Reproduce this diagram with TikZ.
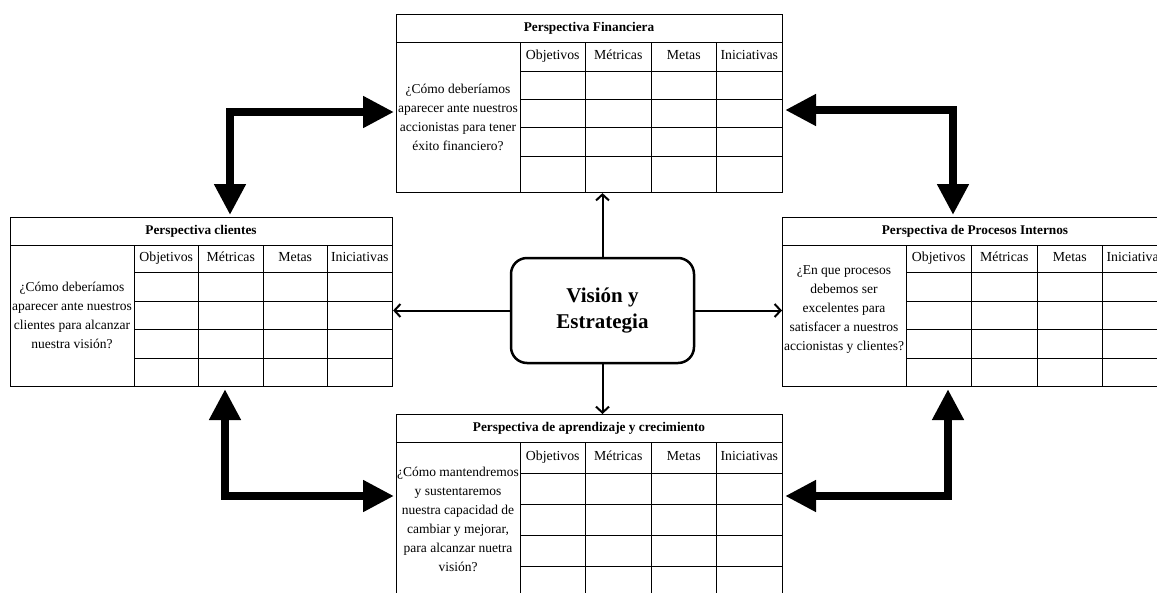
\documentclass[tikz,border=0pt]{standalone}
\usepackage{fontspec}
\setmainfont{Liberation Serif}
\usetikzlibrary{arrows.meta}
\tikzset{
 tbox/.style={draw, line width=1.1pt, inner sep=0pt},
 tline/.style={line width=1pt},
 ttl/.style={font=\bfseries\fontsize{13.3}{15}\selectfont, inner sep=0pt, text height=9.5pt, text depth=3pt},
 hdr/.style={font=\fontsize{13.8}{16}\selectfont, inner sep=0pt, text height=9.5pt, text depth=3pt},
 qst/.style={font=\fontsize{13.5}{19}\selectfont, align=center, inner sep=0pt},
 visbox/.style={draw, line width=2.5pt, rounded corners=16pt, minimum width=183pt, minimum height=105pt, align=center, font=\bfseries\fontsize{21}{26}\selectfont},
 carrow/.style={line width=2pt, -{Straight Barb[length=6pt,width=13pt]}},
 elbow/.style={line width=8pt, line join=miter, {Triangle[length=31pt,width=30pt]}-{Triangle[length=31pt,width=30pt]}, shorten >=2pt, shorten <=2pt},
}
\def\qsh{0}
\newcommand\ptable[9]{%
 \node[tbox, minimum width=#4pt, minimum height=#7pt, anchor=north west] (#1) at (#2,#3) {};
 \pgfmathsetmacro\qx{#2+124}%
 \pgfmathsetmacro\cw{(#4-124)/4}%
 \pgfmathsetmacro\hy{#3+(28+#5)/2}%
 \draw[tline] (#2,#3+28) -- (#2+#4,#3+28);
 \draw[tline] (\qx,#3+28) -- (\qx,#3+#7);
 \foreach \i in {1,2,3} \draw[tline] (\qx+\i*\cw,#3+28) -- (\qx+\i*\cw,#3+#7);
 \draw[tline] (\qx,#3+#5) -- (#2+#4,#3+#5);
 \foreach \r in {#6} \draw[tline] (\qx,#3+\r) -- (#2+#4,#3+\r);
 \node[ttl] (#1-title) at (#2+#4/2,#3+14) {#8};
 \foreach [count=\k from 0] \h in {Objetivos,Métricas,Metas,Iniciativas}
   \node[hdr] (#1-h\k) at (\qx+\k*\cw+\cw/2,\hy) {\h};
 \node[qst] (#1-q) at (#2+62,#3+14+#7/2+\qsh) {#9};
}
\begin{document}
\begin{tikzpicture}[x=1pt,y=-1pt]
\useasboundingbox (0,0) rectangle (1157,592);
\clip (0,0) rectangle (1157,592);
\ptable{fin}{396}{14}{386}{57}{85,113,142}{178}{Perspectiva Financiera}{¿Cómo deberíamos\\aparecer ante nuestros\\accionistas para tener\\éxito financiero?}
\ptable{cli}{10}{217}{382}{55}{84,112,141}{169}{Perspectiva clientes}{¿Cómo deberíamos\\aparecer ante nuestros\\clientes para alcanzar\\nuestra visión?}
\def\qsh{-6}
\ptable{pro}{782}{217}{386}{55}{84,112,141}{169}{Perspectiva de Procesos Internos}{¿En que procesos\\debemos ser\\excelentes para\\satisfacer a nuestros\\accionistas y clientes?}
\def\qsh{0}
\ptable{apr}{396}{414}{386}{59}{90,121,152}{183}{Perspectiva de aprendizaje y crecimiento}{¿Cómo mantendremos\\y sustentaremos\\nuestra capacidad de\\cambiar y mejorar,\\para alcanzar nuetra\\visión?}
\node[visbox] (vis) at (602.5,310.5) {Visión y\\Estrategia};
\draw[carrow] (vis.north) -- (vis.north |- fin.south);
\draw[carrow] (vis.south) -- (vis.south |- apr.north);
\draw[carrow] (vis.west) -- (vis.west -| cli.east);
\draw[carrow] (vis.east) -- (vis.east -| pro.west);
\coordinate (ctl) at (230,112);
\coordinate (ctr) at (953,110);
\coordinate (cbl) at (225,496);
\coordinate (cbr) at (948,496);
\draw[elbow] (fin.west |- ctl) -| (cli.north -| ctl);
\draw[elbow] (fin.east |- ctr) -| (pro.north -| ctr);
\draw[elbow] (cli.south -| cbl) |- (apr.west |- cbl);
\draw[elbow] (pro.south -| cbr) |- (apr.east |- cbr);
\end{tikzpicture}
\end{document}
